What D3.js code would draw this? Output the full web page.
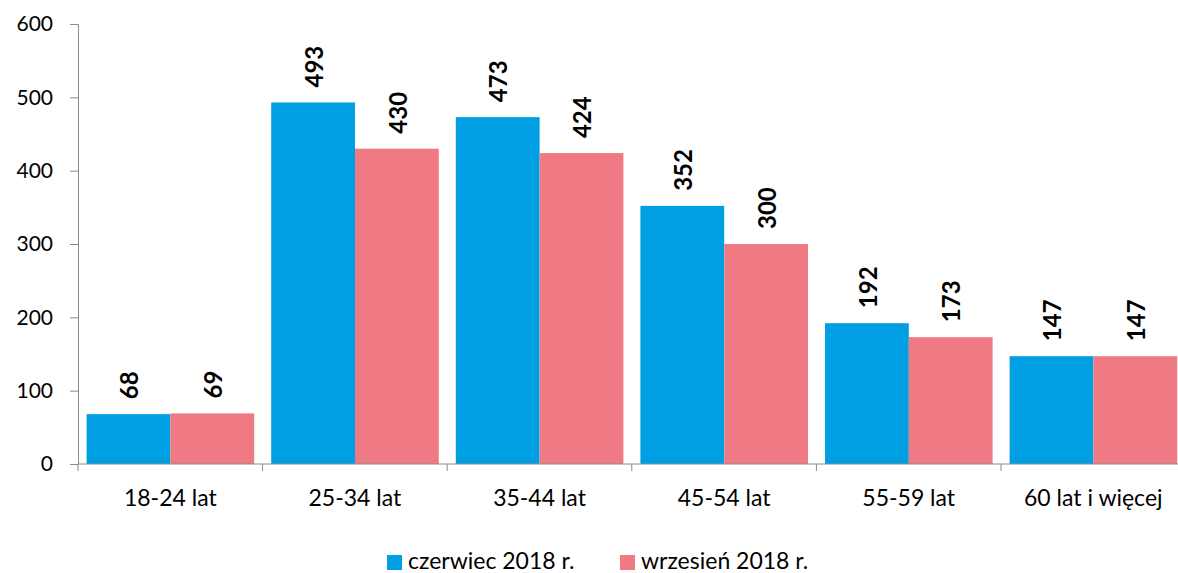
<!DOCTYPE html>
<html>
<head>
<meta charset="utf-8">
<script src="https://cdn.jsdelivr.net/npm/d3@7"></script>
<style>
  body { margin: 0; background: #fff; }
  text { font-family: Lato, "Open Sans", sans-serif; fill: #000; }
</style>
</head>
<body>
<script>
// age groups and the two survey months
var categories = ["18-24 lat", "25-34 lat", "35-44 lat", "45-54 lat", "55-59 lat", "60 lat i więcej"];
var seriesNames = ["czerwiec 2018 r.", "wrzesień 2018 r."];
var czerwiec = [68, 493, 473, 352, 192, 147];
var wrzesien = [69, 430, 424, 300, 173, 147];
var yTicks = [0, 100, 200, 300, 400, 500, 600];
var colors = ["#009FE3", "#F07A84"];

var W = 1178, H = 573;
var margin = {top: 24, left: 78, bottom: 109};
var step = 184.6;
var plotH = H - margin.top - margin.bottom;

var svg = d3.select("body").append("svg")
    .attr("width", W)
    .attr("height", H);

var data = categories.map(function(c, i) {
  return {cat: c, values: [czerwiec[i], wrzesien[i]]};
});

var x0 = d3.scaleBand()
    .domain(categories)
    .range([margin.left, margin.left + step * categories.length])
    .padding(0);

var x1 = d3.scaleBand()
    .domain([0, 1])
    .range([8.6, x0.bandwidth() - 8.4])
    .padding(0);

var y = d3.scaleLinear()
    .domain([0, 600])
    .range([margin.top + plotH, margin.top]);

// y axis
var yAxis = svg.append("g")
    .attr("transform", "translate(" + margin.left + ",0)")
    .call(d3.axisLeft(y).tickValues(yTicks).tickSize(8).tickPadding(17));
yAxis.select(".domain").attr("stroke", "#8c8c8c");
yAxis.selectAll(".tick line").attr("stroke", "#8c8c8c");
yAxis.selectAll("text").attr("font-size", 21).style("font-family", "Lato, sans-serif");

// bars
var groups = svg.selectAll(".grp")
    .data(data)
    .enter().append("g")
    .attr("class", "grp")
    .attr("transform", function(d) { return "translate(" + x0(d.cat) + ",0)"; });

groups.selectAll("rect")
    .data(function(d) { return d.values; })
    .enter().append("rect")
    .attr("x", function(d, i) { return x1(i); })
    .attr("width", x1.bandwidth())
    .attr("y", function(d) { return y(d); })
    .attr("height", function(d) { return y(0) - y(d); })
    .attr("fill", function(d, i) { return colors[i]; });

// value labels, rotated
groups.selectAll(".lbl")
    .data(function(d) { return d.values; })
    .enter().append("text")
    .attr("class", "lbl")
    .attr("transform", function(d, i) {
      return "translate(" + (x1(i) + x1.bandwidth() / 2 + 1) + "," + (y(d) - 15) + ") rotate(-90)";
    })
    .attr("dy", "0.36em")
    .attr("font-size", 24)
    .attr("font-weight", "bold")
    .text(function(d) { return d; });

// x axis: line, boundary ticks, labels
var xg = svg.append("g");
xg.append("line")
    .attr("x1", margin.left).attr("x2", x0.range()[1])
    .attr("y1", y(0)).attr("y2", y(0))
    .attr("stroke", "#8c8c8c");
var bounds = categories.map(function(c) { return x0(c); }).concat([x0.range()[1]]);
xg.selectAll(".bt")
    .data(bounds)
    .enter().append("line")
    .attr("x1", function(d) { return d; }).attr("x2", function(d) { return d; })
    .attr("y1", y(0)).attr("y2", y(0) + 7)
    .attr("stroke", "#8c8c8c");
xg.selectAll(".xl")
    .data(categories)
    .enter().append("text")
    .attr("x", function(d) { return x0(d) + x0.bandwidth() / 2; })
    .attr("y", 506)
    .attr("text-anchor", "middle")
    .attr("font-size", 23)
    .text(function(d) { return d; });

// legend
var legX = [387, 620];
var leg = svg.selectAll(".leg")
    .data(seriesNames)
    .enter().append("g")
    .attr("transform", function(d, i) { return "translate(" + legX[i] + ",555)"; });
leg.append("rect")
    .attr("width", 15).attr("height", 15)
    .attr("fill", function(d, i) { return colors[i]; });
leg.append("text")
    .attr("x", 21).attr("y", 14)
    .attr("font-size", 23)
    .text(function(d) { return d; });
</script>
</body>
</html>
